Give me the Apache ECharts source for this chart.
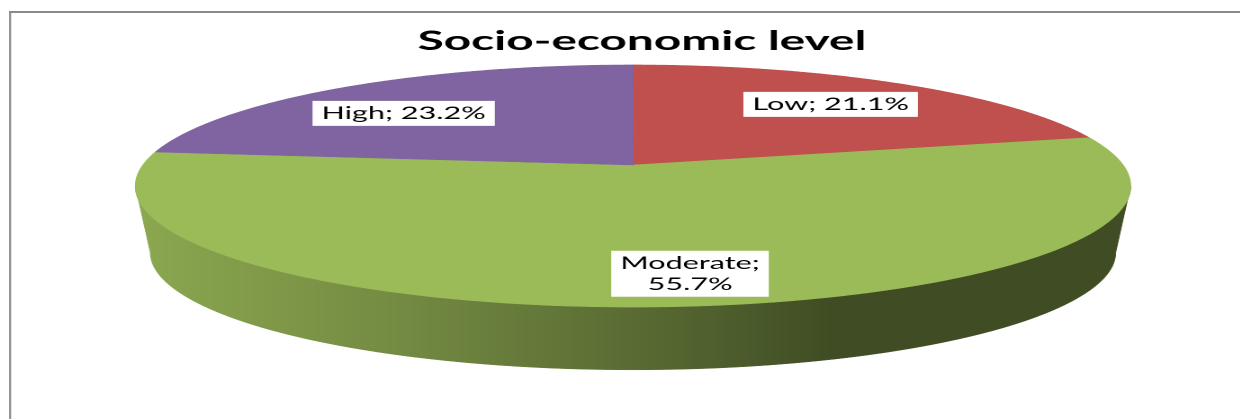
<!DOCTYPE html>
<html>
<head>
<meta charset="utf-8">
<script src="https://cdn.jsdelivr.net/npm/echarts@6/dist/echarts.min.js"></script>
<style>
  html, body { margin: 0; padding: 0; background: #fff; overflow: hidden; }
  #wrap { width: 1241px; height: 419px; overflow: hidden; position: relative; }
  #chart { width: 689.44px; height: 419px; transform: scaleX(1.8); transform-origin: 0 0; }
</style>
</head>
<body>
<div id="wrap"><div id="chart"></div></div>
<script>
// Survey shares by socio-economic level (percent)
const categories = ['Low', 'Moderate', 'High'];
const shares = [21.1, 55.7, 23.2];
const sliceColors = ['#C0504D', '#9BBB59', '#8064A2'];
const titleText = 'Socio-economic level';

// The drawing is laid out narrow and widened horizontally by the CSS transform.
const STRETCH = 1.8;
const W = 1241 / STRETCH;

// Tilted disk geometry (perspective view of a thick pie)
const disk = {
  cx: 633 / STRETCH, cy: 165,
  rx: 490 / STRETCH, ry: 117.4,
  persp: 0.1736, depth: 67, baseScale: 0.97
};
const labelRadius = [0.72, 0.8, 0.72];
const labelShift = [[0, 0], [15, 0], [-8, 6]];
const LABEL_FONT = '17px Lato';
const LABEL_MAX_WIDTH = 95;

const total = shares.reduce((s, v) => s + v, 0);
const starts = [];
shares.reduce((acc, v, i) => { starts[i] = acc; return acc + v / total * 360; }, 0);

// angle measured clockwise from the back of the disk
function project(phiDeg, r, bottom) {
  const phi = phiDeg * Math.PI / 180;
  const X = r * Math.sin(phi), Z = -r * Math.cos(phi);
  const w = 1 - disk.persp * Z;
  const s = bottom ? disk.baseScale : 1;
  return [disk.cx + s * disk.rx * X / w, disk.cy + (bottom ? disk.depth : 0) + s * disk.ry * Z / w];
}

function arc(a, b, r, bottom) {
  const pts = [];
  const n = Math.max(2, Math.ceil(Math.abs(b - a) / 0.5));
  for (let k = 0; k <= n; k++) pts.push(project(a + (b - a) * k / n, r, bottom));
  return pts;
}

function shade(hex, f) {
  const n = parseInt(hex.slice(1), 16);
  const c = [(n >> 16) & 255, (n >> 8) & 255, n & 255].map(v => Math.round(v * f));
  return 'rgb(' + c.join(',') + ')';
}

// wrap "name; value" onto two lines when it does not fit the label width
const measureCtx = document.createElement('canvas').getContext('2d');
function labelText(name, val) {
  const one = name + '; ' + val.toFixed(1) + '%';
  measureCtx.font = LABEL_FONT;
  return measureCtx.measureText(one).width > LABEL_MAX_WIDTH ? name + ';\n' + val.toFixed(1) + '%' : one;
}

// silhouette angles of the rim
const sil = Math.acos(-disk.persp) * 180 / Math.PI;
const halfW = disk.rx / Math.sqrt(1 - disk.persp * disk.persp);

function sideFill(color) {
  return new echarts.graphic.LinearGradient(disk.cx - halfW, 0, disk.cx + halfW, 0, [
    { offset: 0, color: shade(color, 0.9) },
    { offset: 0.27, color: shade(color, 0.74) },
    { offset: 0.5, color: shade(color, 0.58) },
    { offset: 0.7, color: shade(color, 0.41) },
    { offset: 1, color: shade(color, 0.41) }
  ], true);
}

const chart = echarts.init(document.getElementById('chart'), null, { renderer: 'canvas', devicePixelRatio: 2 });

chart.setOption({
  animation: false,
  backgroundColor: '#fff',
  title: {
    text: titleText,
    left: disk.cx,
    textAlign: 'center',
    top: 23,
    textStyle: { fontFamily: 'Lato', fontWeight: 'bold', fontSize: 26.5, color: '#000' }
  },
  graphic: [
    { type: 'line', shape: { x1: 5.6, y1: 12, x2: 5.6, y2: 430 }, style: { stroke: '#8a8a8a', lineWidth: 1.1 }, silent: true },
    { type: 'line', shape: { x1: 5.0, y1: 12, x2: W + 10, y2: 12 }, style: { stroke: '#8a8a8a', lineWidth: 2 }, silent: true }
  ],
  series: [{
    type: 'custom',
    coordinateSystem: 'none',
    data: shares.map((v, i) => ({ name: categories[i], value: v })),
    renderItem: function (params, api) {
      const i = params.dataIndex;
      const val = api.value(0);
      const a0 = starts[i];
      const a1 = a0 + val / total * 360;
      const color = sliceColors[i];
      const children = [];

      // visible rim of the slice
      const lo = Math.max(a0, sil), hi = Math.min(a1, 360 - sil);
      if (hi > lo) {
        const pts = arc(lo, hi, 1, false).concat(arc(hi, lo, 1, true));
        const g = sideFill(color);
        children.push({ type: 'polygon', z2: 1, shape: { points: pts }, style: { fill: g, stroke: g, lineWidth: 0.5 } });
      }

      // top face
      const top = [project(0, 0, false)].concat(arc(a0, a1, 1, false));
      children.push({ type: 'polygon', z2: 5, shape: { points: top }, style: { fill: color, stroke: color, lineWidth: 0.6 } });

      // data label
      const mid = (a0 + a1) / 2;
      const p = project(mid, labelRadius[i], false);
      children.push({
        type: 'text', z2: 10,
        x: p[0] + labelShift[i][0], y: p[1] + labelShift[i][1],
        style: {
          text: labelText(categories[i], val),
          fill: '#000', font: LABEL_FONT,
          align: 'center', verticalAlign: 'middle',
          lineHeight: 21,
          backgroundColor: '#fff', padding: [2, 5]
        }
      });
      return { type: 'group', children: children };
    }
  }]
});
</script>
</body>
</html>
